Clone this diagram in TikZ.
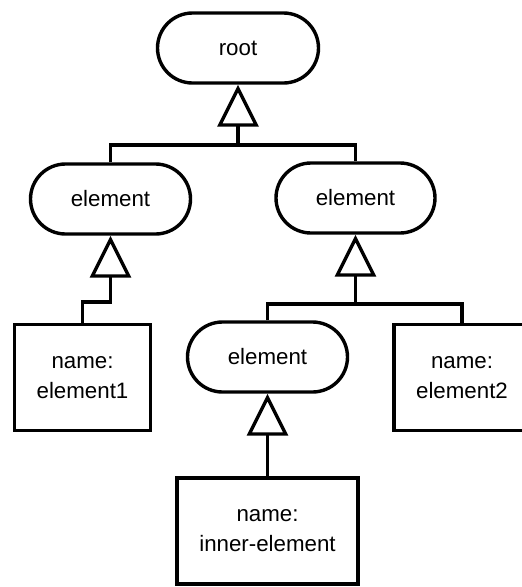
\documentclass[tikz,border=0pt]{standalone}
\usepackage{fontspec}
\setmainfont{Liberation Sans}
\usetikzlibrary{shapes.misc,arrows.meta}
\begin{document}
\begin{tikzpicture}[x=1pt,y=-1pt,
  every node/.style={font=\fontsize{22.3}{30}\selectfont, align=center, inner sep=0pt},
  elem/.style={draw, line width=3.4pt, rounded rectangle, minimum height=70pt},
  namebox/.style={draw, line width=3.4pt, rectangle, minimum height=106pt},
  link/.style={line width=3.4pt},
  inh/.style={line width=3.4pt, -{Triangle[open,length=42pt,width=41pt]}}]
  \clip (0,0) rectangle (522,587);
  % tree nodes
  \node[elem, minimum width=161pt] (root) at (238,48) {root};
  \node[elem, minimum width=160pt] (eL) at (110.5,199) {element};
  \node[elem, minimum width=159pt] (eR) at (355.5,198) {element};
  \node[elem, minimum width=160pt] (eI) at (267.5,357) {element};
  \node[namebox, minimum width=136pt] (n1) at (82.5,377.5) {name:\\element1};
  \node[namebox, minimum width=136pt] (n2) at (462,377.5) {name:\\element2};
  \node[namebox, minimum width=181pt] (nI) at (267.5,531) {name:\\inner-element};
  % junction points of the orthogonal connectors
  \coordinate (j1) at (238,145);
  \coordinate (j2) at (110.5,302);
  \coordinate (j3) at (355.5,304);
  % root's children
  \draw[link] (eL.north) |- (j1);
  \draw[link] (eR.north) |- (j1);
  \draw[inh] (j1) -- (root.south);
  % left element
  \draw[inh] (n1.north) |- (j2) -- (eL.south);
  % right element
  \draw[link] (eI.north) |- (j3);
  \draw[link] (n2.north) |- (j3);
  \draw[inh] (j3) -- (eR.south);
  % inner element
  \draw[inh] (nI.north) -- (eI.south);
\end{tikzpicture}
\end{document}
